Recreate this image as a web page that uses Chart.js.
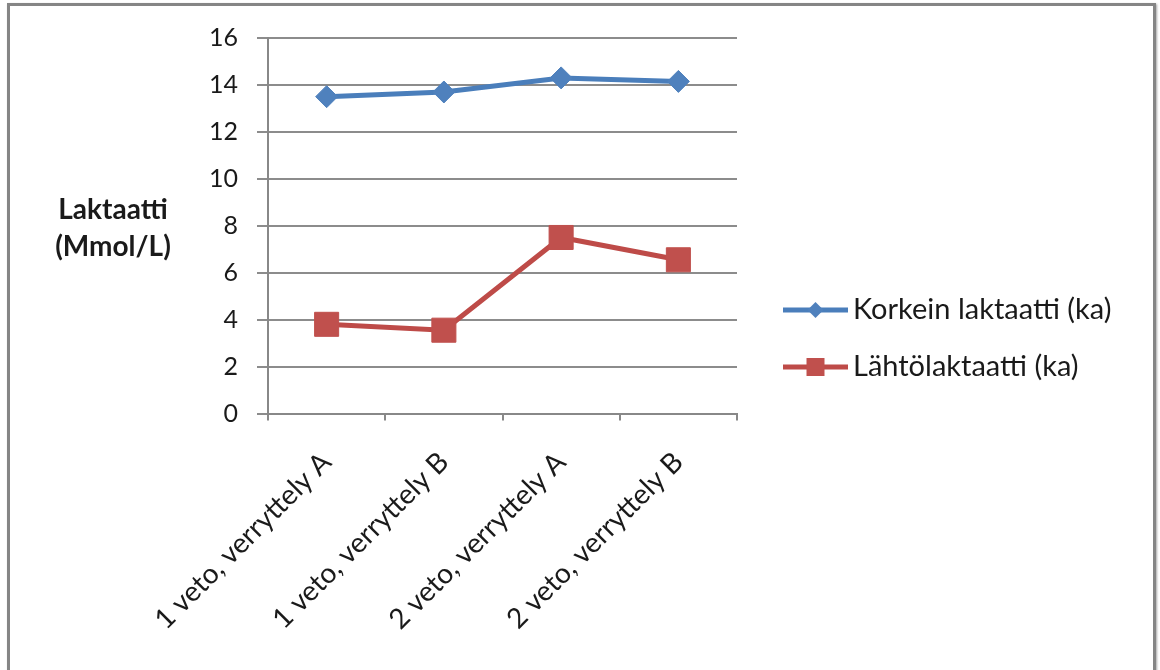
<!DOCTYPE html>
<html>
<head>
<meta charset="utf-8">
<script src="https://cdn.jsdelivr.net/npm/chart.js@4.4.1/dist/chart.umd.min.js"></script>
<style>
  html, body { margin: 0; padding: 0; background: #fff; width: 1160px; height: 670px; overflow: hidden; }
  #frame {
    position: absolute; left: 7px; top: 3px; width: 1143px; height: 720px;
    border: 3px solid #858585; box-shadow: 1px 1px 2px rgba(0,0,0,0.35);
  }
  #wrap { position: absolute; left: 0; top: 0; width: 1160px; height: 670px; }
</style>
</head>
<body>
<div id="frame"></div>
<div id="wrap"><canvas id="c" width="1160" height="670"></canvas></div>
<script>
// Categories and series
const categories = ['1 veto, verryttely A', '1 veto, verryttely B', '2 veto, verryttely A', '2 veto, verryttely B'];
const korkeinLaktaatti = [13.5, 13.7, 14.3, 14.15];
const lahtoLaktaatti = [3.8, 3.55, 7.5, 6.55];
const seriesNames = ['Korkein laktaatti (ka)', 'Lähtölaktaatti (ka)'];
const yMin = 0, yMax = 16, yStep = 2;
const yTitleLines = ['Laktaatti', '(Mmol/L)'];

const FONT = 'Lato, "Open Sans", sans-serif';
const TEXT = '#1a1a1a';

// Horizontal two-line y-axis title
const yTitlePlugin = {
  id: 'yTitle',
  afterDraw(chart) {
    const ctx = chart.ctx;
    ctx.save();
    ctx.font = 'bold 28px ' + FONT;
    ctx.fillStyle = TEXT;
    ctx.textAlign = 'center';
    ctx.textBaseline = 'middle';
    yTitleLines.forEach((t, i) => ctx.fillText(t, 113, 210 + i * 37));
    ctx.restore();
  }
};

// Legend with line + marker swatches, drawn to the right of the plot
const sideLegendPlugin = {
  id: 'sideLegend',
  afterDraw(chart) {
    const ctx = chart.ctx;
    ctx.save();
    chart.data.datasets.forEach((ds, i) => {
      const y = 310 + i * 57;
      const x0 = 783, x1 = 848, xm = (x0 + x1) / 2;
      ctx.strokeStyle = ds.borderColor;
      ctx.lineWidth = ds.borderWidth;
      ctx.beginPath();
      ctx.moveTo(x0, y);
      ctx.lineTo(x1, y);
      ctx.stroke();
      ctx.fillStyle = ds.pointBackgroundColor;
      ctx.beginPath();
      if (ds.pointStyle === 'rect') {
        const r = 9;
        ctx.rect(xm - r, y - r, 2 * r, 2 * r);
      } else {
        const r = 8;
        ctx.moveTo(xm, y - r); ctx.lineTo(xm + r, y); ctx.lineTo(xm, y + r); ctx.lineTo(xm - r, y); ctx.closePath();
      }
      ctx.fill();
      ctx.font = '29px ' + FONT;
      ctx.fillStyle = TEXT;
      ctx.textAlign = 'left';
      ctx.textBaseline = 'middle';
      ctx.fillText(ds.label, 853, y);
    });
    ctx.restore();
  }
};

new Chart(document.getElementById('c'), {
  type: 'line',
  data: {
    labels: categories,
    datasets: [
      {
        label: seriesNames[0],
        data: korkeinLaktaatti,
        borderColor: '#4A7EBB',
        backgroundColor: '#4F81BD',
        borderWidth: 5,
        pointStyle: 'rectRot',
        pointRadius: 11,
        pointBackgroundColor: '#4F81BD',
        pointBorderColor: '#4F81BD',
        pointBorderWidth: 1,
        tension: 0
      },
      {
        label: seriesNames[1],
        data: lahtoLaktaatti,
        borderColor: '#BE4B48',
        backgroundColor: '#C0504D',
        borderWidth: 5,
        pointStyle: 'rect',
        pointRadius: 17,
        pointBackgroundColor: '#C0504D',
        pointBorderColor: '#C0504D',
        pointBorderWidth: 1,
        tension: 0
      }
    ]
  },
  options: {
    responsive: false,
    animation: false,
    devicePixelRatio: 1,
    layout: { padding: { top: 38, right: 423, left: 0, bottom: 0 } },
    plugins: {
      legend: { display: false },
      tooltip: { enabled: false }
    },
    scales: {
      x: {
        offset: true,
        grid: {
          offset: true,
          drawOnChartArea: false,
          drawTicks: true,
          tickLength: 7,
          color: '#888888',
          lineWidth: 2
        },
        border: { color: '#888888', width: 2 },
        ticks: {
          autoSkip: false,
          minRotation: 45,
          maxRotation: 45,
          padding: 25,
          color: TEXT,
          font: { family: FONT, size: 28 }
        },
        afterFit(scale) { scale.height = 256.5; }
      },
      y: {
        min: yMin,
        max: yMax,
        grid: {
          color: '#8c8c8c',
          lineWidth: 2,
          drawTicks: true,
          tickLength: 11
        },
        border: { color: '#888888', width: 2 },
        ticks: {
          stepSize: yStep,
          padding: 19,
          color: TEXT,
          font: { family: FONT, size: 25 }
        },
        afterFit(scale) { scale.width = 268; }
      }
    }
  },
  plugins: [yTitlePlugin, sideLegendPlugin]
});
</script>
</body>
</html>
